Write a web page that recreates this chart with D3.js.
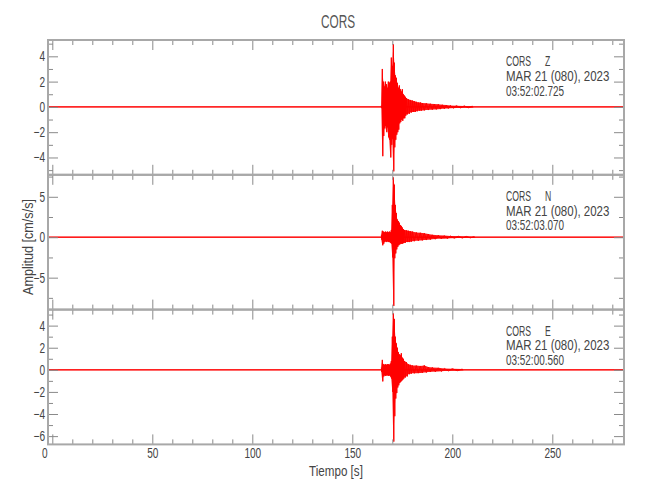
<!DOCTYPE html>
<html><head><meta charset="utf-8">
<script src="https://cdn.jsdelivr.net/npm/d3@7"></script>
<style>
body{margin:0;background:#fff;}
text{font-family:"Liberation Sans",Arial,sans-serif;fill:#444;}
</style>
</head><body>
<svg id="chart" width="650" height="500"></svg>
<script>
// ---------- data ----------
const station = "CORS";
const components = ["Z", "N", "E"];
const dateLabel = "MAR 21 (080), 2023";
const startTimes = ["03:52:02.725", "03:52:03.070", "03:52:00.560"];
const xTitle = "Tiempo [s]";
const yTitle = "Amplitud [cm/s/s]";

const timeDomain = [-2.15, 285.85];
const xMajorTicks = [0, 50, 100, 150, 200, 250];
const xMinorTicks = [10, 20, 30, 40, 60, 70, 80, 90, 110, 120, 130, 140, 160, 170, 180, 190, 210, 220, 230, 240, 260, 270, 280];

const yDomainZ = [-5.37, 5.29];
const yDomainN = [-8.95, 7.72];
const yDomainE = [-6.75, 5.45];
const yMajorZ = [-4, -2, 0, 2, 4];
const yMajorN = [-5, 0, 5];
const yMajorE = [-6, -4, -2, 0, 2, 4];
const yMinorZ = [-5, -3, -1, 1, 3, 5];
const yMinorN = [-7.5, -2.5, 2.5, 7.5];
const yMinorE = [-5, -3, -1, 1, 3, 5];
const noiseLevel = [0.05, 0.08, 0.06];

// envelope of the trace (time s, max, min) read from the record
const envTimeZ = [164.5,165,165.5,166,166.5,167,167.5,168,168.5,169,169.5,170,170.5,171,171.5,172,172.5,173,173.5,174,174.5,175,175.5,176,176.5,177,178,179,180,181,182,183,184,185,187,189,191,193,195,197,199,202,206,210];
const envMaxZ  = [0.1,3.0,2.0,1.6,2.0,1.8,1.5,2.0,1.9,2.0,3.9,3.2,4.95,3.5,2.5,2.3,1.9,1.5,1.7,1.4,1.2,1.4,1.0,0.9,0.8,0.7,0.6,0.55,0.5,0.45,0.4,0.35,0.35,0.3,0.28,0.25,0.22,0.2,0.17,0.15,0.12,0.1,0.08,0.06];
const envMinZ  = [-0.1,-3.9,-2.3,-1.7,-1.5,-2.0,-1.6,-2.4,-2.6,-4.0,-3.0,-2.5,-5.1,-3.2,-2.6,-2.2,-2.0,-1.8,-1.3,-1.2,-1.0,-1.1,-0.9,-0.9,-0.7,-0.6,-0.55,-0.45,-0.4,-0.4,-0.35,-0.3,-0.3,-0.28,-0.25,-0.22,-0.2,-0.18,-0.15,-0.13,-0.1,-0.08,-0.07,-0.06];

const envTimeN = [164.5,165,165.5,166,166.5,167,167.5,168,168.5,169,169.5,170,170.5,171,171.5,172,172.5,173,173.5,174,174.5,175,175.5,176,177,178,179,180,182,184,186,188,190,193,196,199,203,207,211];
const envMaxN  = [0.3,0.8,0.7,0.6,0.7,0.6,0.7,0.6,0.7,0.6,0.9,4.0,7.4,6.5,4.0,3.0,2.2,2.0,1.8,1.5,1.4,1.2,1.0,0.9,0.85,0.8,0.75,0.7,0.6,0.55,0.5,0.4,0.3,0.25,0.2,0.15,0.12,0.1,0.07];
const envMinN  = [-0.3,-1.0,-0.8,-0.6,-0.5,-0.6,-0.5,-0.6,-0.6,-0.7,-0.8,-2.5,-8.5,-2.6,-2.0,-1.5,-1.2,-1.0,-0.9,-0.8,-0.8,-0.8,-0.7,-0.7,-0.6,-0.6,-0.55,-0.5,-0.45,-0.4,-0.35,-0.3,-0.25,-0.2,-0.18,-0.12,-0.1,-0.08,-0.06];

const envTimeE = [164.5,165,165.5,166,166.5,167,167.5,168,168.5,169,169.5,170,170.5,171,171.5,172,172.5,173,173.5,174,174.5,175,175.5,176,177,178,179,180,182,184,186,188,190,193,196,200,205];
const envMaxE  = [0.2,0.9,0.5,0.45,0.5,0.45,0.5,0.5,0.45,0.55,0.8,3.0,5.1,4.6,3.0,2.4,2.0,1.6,1.4,1.3,1.5,1.1,1.0,0.8,0.7,0.5,0.45,0.4,0.38,0.35,0.4,0.25,0.22,0.18,0.12,0.1,0.07];
const envMinE  = [-0.2,-1.05,-0.6,-0.5,-0.55,-0.5,-0.5,-0.55,-0.5,-0.6,-0.8,-2.0,-6.5,-4.2,-2.6,-2.1,-1.6,-1.4,-1.2,-1.1,-1.0,-0.9,-0.8,-0.7,-0.6,-0.4,-0.35,-0.32,-0.3,-0.28,-0.25,-0.2,-0.18,-0.15,-0.1,-0.08,-0.06];

// ---------- layout ----------
const panels = [
  {domain: yDomainZ, major: yMajorZ, minor: yMinorZ, t: envTimeZ, mx: envMaxZ, mn: envMinZ},
  {domain: yDomainN, major: yMajorN, minor: yMinorN, t: envTimeN, mx: envMaxN, mn: envMinN},
  {domain: yDomainE, major: yMajorE, minor: yMinorE, t: envTimeE, mx: envMaxE, mn: envMinE}
];
const left = 48, right = 624, top0 = 40, panelH = 134.8;
const svg = d3.select("#chart");
const x = d3.scaleLinear().domain(timeDomain).range([left, right]);
const borderColor = "#a8a8a8", tickColor = "#8a8a8a", red = "#ff0000";

// narrow the (Arial-metric) glyphs to mimic the condensed plotting font
function condense(sel, factor) {
  sel.each(function () {
    const len = this.getComputedTextLength();
    if (len > 0) d3.select(this).attr("textLength", len * factor).attr("lengthAdjust", "spacingAndGlyphs");
  });
}

const title = svg.append("text").attr("x", 338).attr("y", 28).attr("text-anchor", "middle")
  .style("font-size", "19px").style("fill", "#555").text(station);
condense(title, 0.62);

function styleAxis(g) {
  g.select(".domain").remove();
  g.selectAll(".tick line").attr("stroke", tickColor).attr("stroke-width", 1);
  g.selectAll("text").attr("font-size", null).style("font-size", "14px").style("fill", "#444").attr("font-family", null);
  condense(g.selectAll(".tick text"), 0.72);
}

panels.forEach((p, i) => {
  const top = top0 + i * panelH, bottom = top + panelH;
  const y = d3.scaleLinear().domain(p.domain).range([bottom, top]);
  const g = svg.append("g");

  const clipId = "clip" + i;
  svg.append("clipPath").attr("id", clipId).append("rect")
    .attr("x", left).attr("y", top).attr("width", right - left).attr("height", panelH);

  const traceG = g.append("g").attr("clip-path", `url(#${clipId})`);
  // noise floor of the quiet record
  traceG.append("path")
    .datum(timeDomain)
    .attr("d", d3.area().x(d => x(d)).y0(y(-noiseLevel[i])).y1(y(noiseLevel[i])))
    .attr("fill", red).attr("opacity", 0.8);
  traceG.append("path").datum(timeDomain)
    .attr("d", d3.line().x(d => x(d)).y(y(0)))
    .attr("stroke", red).attr("stroke-width", 1);
  // envelope fill
  const env = p.t.map((t, k) => ({t, hi: p.mx[k], lo: p.mn[k]}));
  traceG.append("path").datum(env)
    .attr("d", d3.area().x(d => x(d.t)).y0(d => y(d.lo)).y1(d => y(d.hi)))
    .attr("fill", red).attr("opacity", 0.9);
  // oscillation zig-zag
  const pts = [];
  env.forEach((d, k) => {
    const dt = k < env.length - 1 ? env[k + 1].t - d.t : 0.5;
    pts.push([d.t, d.hi]);
    pts.push([d.t + dt / 2, d.lo]);
  });
  traceG.append("path").datum(pts)
    .attr("d", d3.line().x(d => x(d[0])).y(d => y(d[1])))
    .attr("fill", "none").attr("stroke", red).attr("stroke-width", 1);

  // axes (ticks inward)
  g.append("g").attr("transform", `translate(${left},0)`)
    .call(d3.axisLeft(y).tickValues(p.major).tickSize(-10).tickPadding(3)).call(styleAxis);
  g.append("g").attr("transform", `translate(${left},0)`)
    .call(d3.axisLeft(y).tickValues(p.minor).tickSize(-5).tickFormat("")).call(styleAxis);
  g.append("g").attr("transform", `translate(${right},0)`)
    .call(d3.axisRight(y).tickValues(p.major).tickSize(-10).tickFormat("")).call(styleAxis);
  g.append("g").attr("transform", `translate(${right},0)`)
    .call(d3.axisRight(y).tickValues(p.minor).tickSize(-5).tickFormat("")).call(styleAxis);
  g.append("g").attr("transform", `translate(0,${top})`)
    .call(d3.axisTop(x).tickValues(xMajorTicks).tickSize(-10).tickFormat("")).call(styleAxis);
  g.append("g").attr("transform", `translate(0,${top})`)
    .call(d3.axisTop(x).tickValues(xMinorTicks).tickSize(-5).tickFormat("")).call(styleAxis);
  const isLast = i === panels.length - 1;
  const bAx = g.append("g").attr("transform", `translate(0,${bottom})`)
    .call(d3.axisBottom(x).tickValues(xMajorTicks).tickSize(-10).tickPadding(4)
      .tickFormat(isLast ? d3.format("d") : "")).call(styleAxis);
  if (isLast) bAx.selectAll(".tick text").filter(d => d === 0).attr("dx", -8);
  g.append("g").attr("transform", `translate(0,${bottom})`)
    .call(d3.axisBottom(x).tickValues(xMinorTicks).tickSize(-5).tickFormat("")).call(styleAxis);

  // frame
  g.append("rect").attr("x", left).attr("y", top).attr("width", right - left).attr("height", panelH)
    .attr("fill", "none").attr("stroke", borderColor).attr("stroke-width", 2);

  // annotation: station + component, date, start time
  g.append("text").attr("transform", `translate(506,${top + 26}) scale(0.62,1)`)
    .style("font-size", "14px").style("fill", "#444").style("word-spacing", "3.6px")
    .attr("xml:space", "preserve").style("white-space", "pre")
    .text(station + "   " + components[i]);
  const d2 = g.append("text").attr("x", 506).attr("y", top + 40.75)
    .style("font-size", "14px").style("fill", "#444").text(dateLabel);
  condense(d2, 0.82);
  const d3t = g.append("text").attr("x", 506).attr("y", top + 55.5)
    .style("font-size", "14px").style("fill", "#444").text(startTimes[i]);
  condense(d3t, 0.71);
});

const xt = svg.append("text").attr("x", (left + right) / 2).attr("y", 476).attr("text-anchor", "middle")
  .style("font-size", "14px").style("white-space", "pre").attr("xml:space", "preserve").text(xTitle);
condense(xt, 0.83);
const yt = svg.append("text").attr("transform", "translate(33,247) rotate(-90)").attr("text-anchor", "middle")
  .style("font-size", "14px").style("white-space", "pre").attr("xml:space", "preserve").text(yTitle);
condense(yt, 0.9);
</script>
</body></html>
